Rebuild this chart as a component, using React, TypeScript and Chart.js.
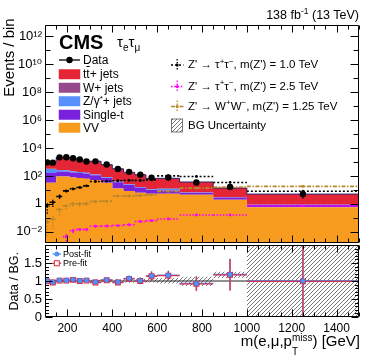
import React, { useEffect, useRef } from 'react';
import { Chart, registerables } from 'chart.js';
Chart.register(...registerables);

const FONT = "'Liberation Sans', Arial, Helvetica, 'DejaVu Sans', sans-serif";

// ---------------- data ----------------
const binEdges = [100, 120, 150, 180, 210, 240, 270, 300, 350, 400, 450, 500, 550, 600, 700, 850, 1000, 1500];
const dataCounts = [933, 890, 2140, 2170, 1860, 1480, 1070, 1100, 660, 316, 195, 123, 76, 78, 34, 16, 5];
const dataErrors = [31, 30, 46, 47, 43, 38, 33, 33, 26, 18, 14, 11, 9, 9, 6, 4, 2.6];

const ttJets = [610, 595, 1830, 1870, 1590, 1270, 880, 1005, 560, 285, 156, 106, 55, 55, 30, 10.5, 4.1];
const wJets = [8, 8, 6, 5, 4, 3, 3, 2, 1.5, 1, 0.6, 0.4, 0.3, 0.3, 0.15, 0.08, 0.02];
const dyJets = [158, 158, 64, 52, 36, 32, 25, 14, 8.6, 4.3, 2.7, 1.7, 1.2, 2.9, 0.3, 0.14, 0.02];
const singleTop = [127, 127, 108, 108, 102, 88, 78, 60, 39, 23, 14, 7.8, 4.7, 3.9, 1.8, 0.93, 0.28];
const dibosonVV = [32, 32, 91, 91, 76, 71, 63, 52, 32, 12.6, 8.3, 6.3, 5.2, 5.2, 4.5, 1.95, 0.58];

const zpTauTau1000 = [0.7, 1.3, 3.4, 8.5, 12, 15, 19.5, 40, 42, 45, 48, 48, 52, 100, 91, 34, 8];
const zpTauTau1000Err = [0.5, 0.7, 1.2, 2, 2.4, 2.7, 3, 4.3, 4.4, 4.6, 4.7, 4.7, 4.9, 7, 6.6, 4, 1.9];
const zpTauTau2500 = [null, null, null, 0.0045, 0.012, 0.015, 0.015, 0.025, 0.026, 0.028, 0.032, 0.055, 0.063, 0.083, 0.16, 0.16, 0.72];
const zpTauTau2500Err = [0, 0, 0, 0.0025, 0.004, 0.004, 0.004, 0.005, 0.005, 0.005, 0.006, 0.008, 0.008, 0.009, 0.013, 0.013, 0.03];
const zpWW1250 = [0.05, 0.08, 0.4, 0.72, 1.0, 1.0, 1.05, 1.48, 1.58, 3.7, 3.7, 4.0, 4.5, 7.9, 13.5, 15.8, 17.8];
const zpWW1250Err = [0.045, 0.065, 0.25, 0.3, 0.35, 0.35, 0.35, 0.4, 0.42, 0.65, 0.65, 0.7, 0.7, 0.95, 1.2, 1.3, 1.4];

const ratioPostFit = [1.0, 0.97, 1.02, 1.02, 1.04, 1.01, 1.02, 0.97, 1.03, 0.97, 1.07, 1.01, 1.14, 1.16, 0.93, 1.18, 1.0];
const ratioPreFit = [0.99, 0.96, 1.01, 1.01, 1.03, 1.0, 1.01, 0.96, 1.02, 0.96, 1.06, 1.0, 1.13, 1.15, 0.92, 1.17, 0.99];
const ratioErr = [0.035, 0.035, 0.025, 0.025, 0.025, 0.03, 0.035, 0.035, 0.045, 0.06, 0.08, 0.09, 0.13, 0.13, 0.2, 0.44, 1.0];
const bandLow = [0.97, 0.97, 0.97, 0.97, 0.97, 0.97, 0.97, 0.96, 0.96, 0.96, 0.95, 0.95, 0.96, 0.93, 0.86, 1.08, 0.0];
const bandHigh = [1.03, 1.03, 1.03, 1.03, 1.03, 1.03, 1.03, 1.04, 1.04, 1.04, 1.05, 1.06, 1.08, 1.08, 1.12, 1.26, 2.1];

const mainYTickExps = [-2, 0, 2, 4, 6, 8, 10, 12];
const ratioYTicks = [0, 0.5, 1, 1.5];
const xTickLabels = [200, 400, 600, 800, 1000, 1200, 1400];

const COLORS = {
  tt: '#e42536', w: '#964a8b', dy: '#5790fc', st: '#7a21dd', vv: '#f89c20',
  sig1: '#000000', sig25: '#ff00ff', sigWW: '#b8862b', post: '#5790fc', pre: '#e42536',
};

// ---------------- helpers ----------------
const nBins = binEdges.length - 1;
const centers = binEdges.slice(0, -1).map((e, i) => (e + binEdges[i + 1]) / 2);
const xMin = binEdges[0];
const xMax = binEdges[nBins];

type P = { x: number; y: number | null };
const stepPts = (vals: number[]): P[] => {
  const pts: P[] = vals.map((v, i) => ({ x: binEdges[i], y: v }));
  pts.push({ x: binEdges[nBins], y: vals[nBins - 1] });
  return pts;
};
const hSegs = (vals: (number | null)[]): P[] =>
  vals.flatMap((v, i) => (v == null ? [] : [{ x: binEdges[i], y: v }, { x: binEdges[i + 1], y: v }, { x: binEdges[i + 1], y: null }]));
const vErrs = (vals: (number | null)[], errs: number[], floor: number): P[] =>
  vals.flatMap((v, i) =>
    v == null || !errs[i] ? [] : [{ x: centers[i], y: Math.max(v - errs[i], floor) }, { x: centers[i], y: v + errs[i] }, { x: centers[i], y: null }]
  );
const pts = (vals: (number | null)[]): P[] => vals.map((v, i) => ({ x: centers[i], y: v }));

const SUP: Record<string, string> = { '-': '⁻', '0': '⁰', '1': '¹', '2': '²', '3': '³', '4': '⁴', '5': '⁵', '6': '⁶', '7': '⁷', '8': '⁸', '9': '⁹' };
const logLabel = (v: number) => {
  const e = Math.round(Math.log10(v));
  return e === 0 ? '1' : '10' + String(e).split('').map((c) => SUP[c]).join('');
};

function makeHatch(): CanvasPattern | string {
  const c = document.createElement('canvas');
  c.width = 4; c.height = 4;
  const g = c.getContext('2d');
  if (!g) return '#999';
  g.strokeStyle = '#555';
  g.lineWidth = 0.8;
  g.beginPath();
  g.moveTo(0, 4); g.lineTo(4, 0);
  g.moveTo(-1, 1); g.lineTo(1, -1);
  g.moveTo(3, 5); g.lineTo(5, 3);
  g.stroke();
  return g.createPattern(c, 'repeat') || '#999';
}

const noPad = (s: any) => { s.paddingTop = 0; s.paddingBottom = 0; s.paddingLeft = 0; s.paddingRight = 0; };
const hiddenGrid = { display: false, drawTicks: false, tickLength: 0 };

function framePlugin(kind: 'main' | 'ratio') {
  return {
    id: 'frame_' + kind,
    afterDatasetsDraw(chart: any) {
      const { ctx, chartArea: a } = chart;
      const xs = chart.scales.x;
      const ys = chart.scales.y;
      const L = Math.round(a.left) + 0.5, R = Math.round(a.right) - 0.5;
      const T = Math.round(a.top) + 0.5, B = Math.round(a.bottom) - 0.5;
      ctx.save();
      ctx.strokeStyle = '#000';
      ctx.lineWidth = 1;
      ctx.beginPath();
      ctx.rect(L, T, R - L, B - T);
      for (let v = xMin; v <= xMax; v += 50) {
        const px = Math.round(xs.getPixelForValue(v)) + 0.5;
        const len = v % 200 === 0 ? 7 : 4;
        ctx.moveTo(px, B); ctx.lineTo(px, B - len);
        ctx.moveTo(px, T); ctx.lineTo(px, T + len);
      }
      if (kind === 'main') {
        for (let e = -2; e <= 12; e++) {
          const py = Math.round(ys.getPixelForValue(Math.pow(10, e))) + 0.5;
          const len = e % 2 === 0 ? 8 : 5;
          ctx.moveTo(L, py); ctx.lineTo(L + len, py);
          ctx.moveTo(R, py); ctx.lineTo(R - len, py);
        }
      } else {
        for (let k = 0; k <= 20; k++) {
          const py = Math.round(ys.getPixelForValue(k / 10)) + 0.5;
          const len = k % 5 === 0 ? 7 : 3.5;
          ctx.moveTo(L, py); ctx.lineTo(L + len, py);
          ctx.moveTo(R, py); ctx.lineTo(R - len, py);
        }
      }
      ctx.stroke();
      ctx.restore();
    },
  };
}

function mainConfig(): any {
  const stackDefs = [
    { label: 'VV', vals: dibosonVV, color: COLORS.vv },
    { label: 'Single-t', vals: singleTop, color: COLORS.st },
    { label: 'Z/γ*+ jets', vals: dyJets, color: COLORS.dy },
    { label: 'W+ jets', vals: wJets, color: COLORS.w },
    { label: 'tt+ jets', vals: ttJets, color: COLORS.tt },
  ];
  let cum = new Array(nBins).fill(0);
  const stackSets = stackDefs.map((d, k) => {
    cum = cum.map((c, i) => c + d.vals[i]);
    const top = k === stackDefs.length - 1;
    return {
      label: d.label, data: stepPts(cum), stepped: true,
      fill: k === 0 ? 'start' : '-1',
      backgroundColor: d.color, borderColor: top ? '#2a2470' : d.color, borderWidth: top ? 1 : 0,
      pointRadius: 0, order: 10,
    };
  });
  const sig = (vals: (number | null)[], errs: number[], color: string, dash: number[], label: string) => [
    { label, data: hSegs(vals), borderColor: color, borderWidth: 1.6, borderDash: dash, pointRadius: 0, fill: false, order: 3 },
    { label: label + ' err', data: vErrs(vals, errs, 1e-4), borderColor: color, borderWidth: 1.3, borderDash: [1.5, 1.5], pointRadius: 0, fill: false, order: 3 },
    { label: label + ' pts', data: pts(vals), showLine: false, pointRadius: 1.4, pointBackgroundColor: color, pointBorderWidth: 0, order: 3 },
  ];
  return {
    type: 'line',
    data: {
      datasets: [
        ...stackSets,
        ...sig(zpTauTau1000, zpTauTau1000Err, COLORS.sig1, [2, 2], 'Z1000'),
        ...sig(zpTauTau2500, zpTauTau2500Err, COLORS.sig25, [1.6, 1.6], 'Z2500'),
        ...sig(zpWW1250, zpWW1250Err, COLORS.sigWW, [4, 1.6, 1.4, 1.6], 'ZWW1250'),
        { label: 'Data err', data: vErrs(dataCounts, dataErrors, 1e-4), borderColor: '#000', borderWidth: 1.3, pointRadius: 0, fill: false, order: 1 },
        { label: 'Data', data: pts(dataCounts), showLine: false, pointRadius: 3.2, pointBackgroundColor: '#000', pointBorderWidth: 0, order: 1 },
      ],
    },
    options: {
      animation: false, responsive: false, events: [],
      layout: { autoPadding: false, padding: { left: 0, right: 15, top: 25, bottom: 1 } },
      plugins: { legend: { display: false }, tooltip: { enabled: false }, title: { display: false } },
      elements: { line: { tension: 0 } },
      scales: {
        x: { type: 'linear', min: xMin, max: xMax, display: false, afterFit: noPad, grid: hiddenGrid },
        y: {
          type: 'logarithmic', min: Math.pow(10, -2.8), max: Math.pow(10, 12.8),
          afterFit: (s: any) => { s.width = 45; noPad(s); },
          afterBuildTicks: (s: any) => { s.ticks = mainYTickExps.map((e) => ({ value: Math.pow(10, e) })); },
          ticks: { callback: (v: any) => logLabel(Number(v)), font: { family: FONT, size: 13 }, color: '#000', padding: 3, autoSkip: false },
          grid: hiddenGrid, border: { display: false },
        },
      },
    },
    plugins: [framePlugin('main')],
  };
}

function ratioConfig(hatch: any): any {
  const xErr = (vals: number[]): P[] =>
    vals.flatMap((v, i) => [{ x: binEdges[i], y: v }, { x: binEdges[i + 1], y: v }, { x: binEdges[i + 1], y: null }]);
  const both = (vals: number[]) => [...xErr(vals), ...vErrs(vals, ratioErr, -1)];
  return {
    type: 'line',
    data: {
      datasets: [
        { label: 'band lo', data: stepPts(bandLow), stepped: true, borderWidth: 0, pointRadius: 0, fill: false, order: 50 },
        { label: 'band hi', data: stepPts(bandHigh), stepped: true, borderWidth: 0, pointRadius: 0, fill: '-1', backgroundColor: hatch, order: 50 },
        { label: 'unity', data: [{ x: xMin, y: 1 }, { x: xMax, y: 1 }], borderColor: '#222', borderWidth: 1, pointRadius: 0, fill: false, order: 40 },
        { label: 'post err', data: both(ratioPostFit), borderColor: COLORS.post, borderWidth: 1.4, pointRadius: 0, fill: false, order: 30 },
        { label: 'pre err', data: both(ratioPreFit), borderColor: 'rgba(228,37,54,0.85)', borderWidth: 1.4, pointRadius: 0, fill: false, order: 20 },
        { label: 'Pre-fit', data: pts(ratioPreFit), showLine: false, pointStyle: 'rect', pointRadius: 3.4, pointBackgroundColor: 'rgba(255,255,255,0)', pointBorderColor: COLORS.pre, pointBorderWidth: 1.1, order: 10 },
        { label: 'Post-fit', data: pts(ratioPostFit), showLine: false, pointRadius: 2.4, pointBackgroundColor: COLORS.post, pointBorderColor: '#3b6fd8', pointBorderWidth: 0.6, order: 5 },
      ],
    },
    options: {
      animation: false, responsive: false, events: [],
      layout: { autoPadding: false, padding: { left: 0, right: 15, top: 1, bottom: 0 } },
      plugins: { legend: { display: false }, tooltip: { enabled: false }, title: { display: false } },
      scales: {
        x: {
          type: 'linear', min: xMin, max: xMax,
          afterFit: (s: any) => { s.height = 47; noPad(s); },
          afterBuildTicks: (s: any) => { s.ticks = xTickLabels.map((v) => ({ value: v })); },
          ticks: { callback: (v: any) => String(v), font: { family: FONT, size: 12 }, color: '#000', padding: 4, autoSkip: false, maxRotation: 0 },
          grid: hiddenGrid, border: { display: false },
        },
        y: {
          type: 'linear', min: 0, max: 2,
          afterFit: (s: any) => { s.width = 45; noPad(s); },
          afterBuildTicks: (s: any) => { s.ticks = ratioYTicks.map((v) => ({ value: v })); },
          ticks: { callback: (v: any) => String(v), font: { family: FONT, size: 13 }, color: '#000', padding: 3, autoSkip: false },
          grid: hiddenGrid, border: { display: false },
        },
      },
    },
    plugins: [framePlugin('ratio')],
  };
}

// ---------------- text helpers ----------------
const abs = (left: number, top: number, size: number, extra: React.CSSProperties = {}): React.CSSProperties => ({
  position: 'absolute', left, top, fontSize: size, lineHeight: `${size}px`, whiteSpace: 'nowrap', ...extra,
});
const rotated = (cx: number, cy: number, size: number): React.CSSProperties => ({
  position: 'absolute', left: cx - 60, top: cy - size / 2, width: 120, height: size, textAlign: 'center',
  fontSize: size, lineHeight: `${size}px`, whiteSpace: 'nowrap', transform: 'rotate(-90deg)',
});
const Sup = ({ children, size = 8, dy = -4.5 }: any) => (
  <span style={{ fontSize: size, position: 'relative', top: dy }}>{children}</span>
);
const Sub = ({ children, size = 10, dy = 4 }: any) => (
  <span style={{ fontSize: size, position: 'relative', top: dy }}>{children}</span>
);

const leftLegendRows = [60, 74, 87.5, 101, 114.5, 127.5];
const rightLegendRows = [65, 86.5, 106.5, 125.5];

export default function App() {
  const mainRef = useRef<HTMLCanvasElement>(null);
  const ratioRef = useRef<HTMLCanvasElement>(null);

  useEffect(() => {
    const hatch = makeHatch();
    const main = new Chart(mainRef.current as HTMLCanvasElement, mainConfig());
    const ratio = new Chart(ratioRef.current as HTMLCanvasElement, ratioConfig(hatch));
    return () => { main.destroy(); ratio.destroy(); };
  }, []);

  const swatch = (i: number, color: string) => (
    <rect key={'sw' + i} x={59} y={leftLegendRows[i] - 4.5} width={21} height={9.5} fill={color} stroke={color} strokeOpacity={0.6} strokeWidth={0.8} />
  );
  const sigSym = (i: number, color: string, dash: string) => (
    <g key={'sg' + i}>
      <line x1={171} y1={rightLegendRows[i]} x2={183.5} y2={rightLegendRows[i]} stroke={color} strokeWidth={1.5} strokeDasharray={dash} />
      <line x1={177.2} y1={rightLegendRows[i] - 6} x2={177.2} y2={rightLegendRows[i] + 6} stroke={color} strokeWidth={1.3} strokeDasharray="1.5 1.5" />
      <circle cx={177.2} cy={rightLegendRows[i]} r={1.5} fill={color} />
    </g>
  );

  return (
    <div style={{ position: 'fixed', left: 0, top: 0, width: 374, height: 364, background: '#fff', fontFamily: FONT, color: '#000', overflow: 'hidden' }}>
      <canvas ref={mainRef} width={374} height={244} style={{ position: 'absolute', left: 0, top: 0, width: 374, height: 244 }} />
      <canvas ref={ratioRef} width={374} height={120} style={{ position: 'absolute', left: 0, top: 244, width: 374, height: 120 }} />

      <svg width={374} height={364} style={{ position: 'absolute', left: 0, top: 0, pointerEvents: 'none' }}>
        <defs>
          <pattern id="hatchP" width="4" height="4" patternUnits="userSpaceOnUse">
            <path d="M0,4 L4,0 M-1,1 L1,-1 M3,5 L5,3" stroke="#555" strokeWidth="0.8" />
          </pattern>
        </defs>
        <line x1={59} y1={leftLegendRows[0]} x2={80} y2={leftLegendRows[0]} stroke="#000" strokeWidth={1.3} />
        <circle cx={69.5} cy={leftLegendRows[0]} r={3.2} fill="#000" />
        {swatch(1, COLORS.tt)}
        {swatch(2, COLORS.w)}
        {swatch(3, COLORS.dy)}
        {swatch(4, COLORS.st)}
        {swatch(5, COLORS.vv)}
        {sigSym(0, COLORS.sig1, '2 2')}
        {sigSym(1, COLORS.sig25, '1.6 1.6')}
        {sigSym(2, COLORS.sigWW, '4 1.6 1.4 1.6')}
        <rect x={171.5} y={119} width={11} height={13} fill="url(#hatchP)" stroke="#555" strokeWidth={0.8} />
        <line x1={52.5} y1={254} x2={61} y2={254} stroke={COLORS.post} strokeWidth={1.3} />
        <circle cx={56.8} cy={254} r={2.5} fill={COLORS.post} />
        <line x1={52.5} y1={263.3} x2={61} y2={263.3} stroke={COLORS.pre} strokeWidth={1.3} />
        <rect x={54.3} y={260.8} width={5} height={5} fill="#fff" stroke={COLORS.pre} strokeWidth={1} />
      </svg>

      <div style={rotated(8, 57.5, 15)}>Events / bin</div>
      <div style={rotated(13.5, 281, 12.5)}>Data / BG.</div>
      <div style={{ position: 'absolute', right: 14, top: 333, fontSize: 15, lineHeight: '15px', whiteSpace: 'nowrap' }}>
        m(e,μ,p
        <span style={{ position: 'relative', display: 'inline-block' }}>
          <span style={{ fontSize: 10, position: 'relative', top: -5 }}>miss</span>
          <span style={{ fontSize: 10, lineHeight: '15px', position: 'absolute', left: 0, top: 10.5 }}>T</span>
        </span>
        ) [GeV]
      </div>

      <div style={abs(0, 8.5, 12.5, { left: 'auto', right: 15 })}>
        138 fb<Sup size={8.5} dy={-4.5}>-1</Sup> (13 TeV)
      </div>
      <div style={abs(59, 32, 20, { fontWeight: 'bold' })}>CMS</div>
      <div style={abs(117, 33.5, 15)}>
        τ<Sub size={10} dy={4}>e</Sub>τ<Sub size={10} dy={4}>μ</Sub>
      </div>

      <div style={abs(83, leftLegendRows[0] - 6, 12)}>Data</div>
      <div style={abs(83, leftLegendRows[1] - 6, 12)}>t<span style={{ textDecoration: 'overline' }}>t</span>+ jets</div>
      <div style={abs(83, leftLegendRows[2] - 6, 12)}>W+ jets</div>
      <div style={abs(83, leftLegendRows[3] - 6, 12)}>Z/γ<Sup size={8} dy={-4}>*</Sup>+ jets</div>
      <div style={abs(83, leftLegendRows[4] - 6, 12)}>Single-t</div>
      <div style={abs(83, leftLegendRows[5] - 6, 12)}>VV</div>

      <div style={abs(188, rightLegendRows[0] - 5.75, 11.5)}>Z' → τ<Sup>+</Sup>τ<Sup>−</Sup>, m(Z') = 1.0 TeV</div>
      <div style={abs(188, rightLegendRows[1] - 5.75, 11.5)}>Z' → τ<Sup>+</Sup>τ<Sup>−</Sup>, m(Z') = 2.5 TeV</div>
      <div style={abs(188, rightLegendRows[2] - 5.75, 11.5)}>Z' → W<Sup>+</Sup>W<Sup>−</Sup>, m(Z') = 1.25 TeV</div>
      <div style={abs(188, rightLegendRows[3] - 5.75, 11.5)}>BG Uncertainty</div>

      <div style={abs(63, 254 - 4.5, 9)}>Post-fit</div>
      <div style={abs(63, 263.3 - 4.5, 9)}>Pre-fit</div>
    </div>
  );
}
